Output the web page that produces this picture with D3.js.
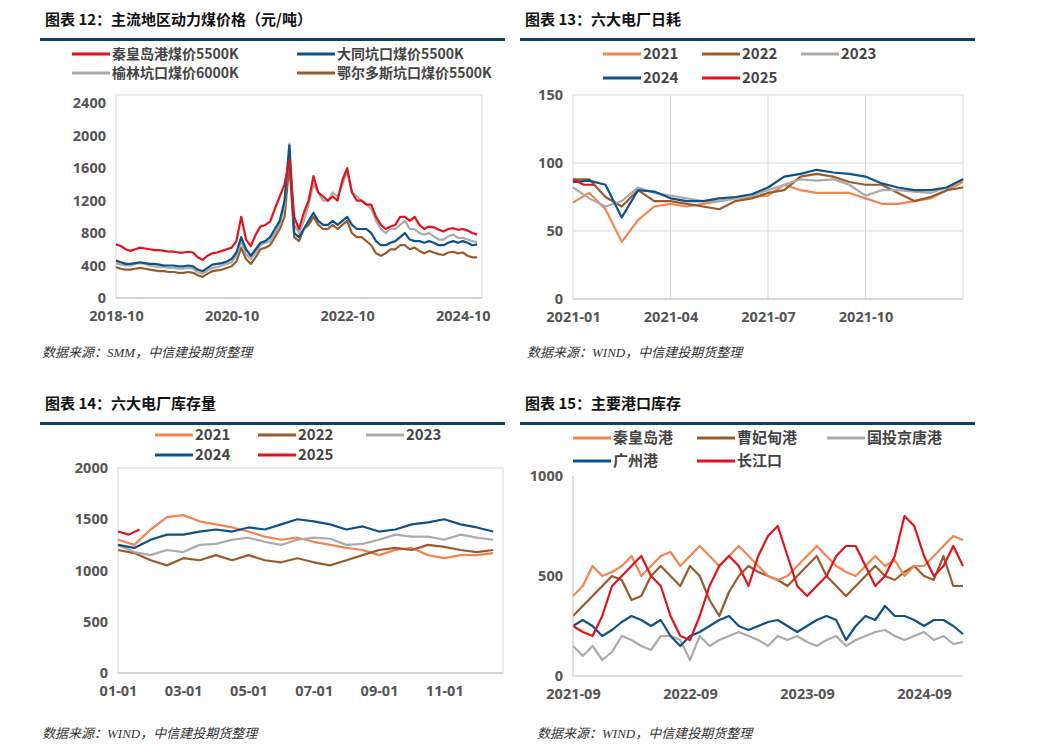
<!DOCTYPE html>
<html><head><meta charset="utf-8">
<script src="https://cdn.jsdelivr.net/npm/d3@7"></script>
<style>body{margin:0;background:#fff}svg{font-family:"Noto Sans CJK SC","Noto Sans",sans-serif}</style>
</head><body><svg id="c" width="1041" height="753"></svg>
<script>
// ---- Chart 12: prices, monthly from 2018-10
const priceTicks = ["2018-10","2020-10","2022-10","2024-10"];
const qhd = [660,640,600,580,600,620,610,600,590,590,580,570,570,560,560,570,560,500,470,520,550,560,580,600,620,700,1000,720,640,780,880,900,940,1100,1250,1400,1700,1000,850,1050,1200,1500,1300,1250,1200,1250,1200,1450,1600,1300,1200,1200,1150,1150,1000,900,850,880,900,1000,1000,950,1000,900,850,880,870,840,820,850,860,840,850,830,800,780];
const datong = [460,440,420,420,430,440,430,420,420,410,400,400,400,390,390,400,390,350,330,370,410,420,430,450,480,560,750,600,520,600,680,700,750,850,950,1200,1880,800,750,850,950,1050,950,900,900,950,900,950,1000,900,850,850,850,800,700,650,650,680,700,750,800,720,700,700,680,700,680,650,650,680,700,680,700,680,650,660];
const yulin = [430,410,400,400,420,430,420,400,390,380,380,370,370,360,360,370,360,320,300,340,370,380,400,420,440,520,700,540,480,560,650,680,700,800,900,1150,1900,900,800,950,1150,1400,1300,1200,1200,1300,1250,1400,1550,1300,1250,1200,1150,1100,950,850,800,850,850,900,950,850,850,800,780,800,760,720,720,760,780,740,740,720,700,690];
const ordos = [380,360,350,350,360,370,360,350,340,330,330,320,320,310,310,320,310,280,260,300,330,340,350,370,390,450,620,480,420,500,600,620,650,750,850,1000,1650,750,700,850,900,1000,900,850,850,900,850,900,950,800,750,750,700,650,550,520,550,600,600,650,650,600,620,580,550,580,560,540,530,560,570,550,560,520,500,500];
// ---- Chart 13: daily consumption, half-month steps
const burnTicks = ["2021-01","2021-04","2021-07","2021-10"];
const burn2021 = [71,78,66,42,58,68,70,68,70,72,74,75,76,84,80,78,78,78,74,70,70,72,74,80,86];
const burn2022 = [88,88,75,68,80,72,72,70,68,66,72,74,78,80,90,92,90,86,84,84,78,72,75,80,82];
const burn2023 = [82,74,68,72,82,78,76,74,72,72,74,76,80,84,88,87,88,84,76,80,80,79,78,82,88];
const burn2024 = [86,87,84,60,80,79,74,72,72,74,75,77,82,90,92,95,93,92,90,85,82,80,80,82,88];
const burn2025 = [88,84,84];
// ---- Chart 14: inventory, half-month steps
const stockTicks = ["01-01","03-01","05-01","07-01","09-01","11-01"];
const stock2021 = [1300,1250,1400,1520,1540,1480,1450,1420,1380,1330,1300,1320,1280,1250,1220,1200,1150,1200,1220,1150,1120,1150,1150,1170];
const stock2022 = [1200,1170,1100,1050,1120,1100,1150,1100,1150,1100,1080,1120,1080,1050,1100,1150,1200,1220,1200,1250,1230,1200,1180,1200];
const stock2023 = [1250,1180,1150,1200,1180,1250,1260,1300,1320,1280,1250,1300,1320,1310,1250,1260,1300,1350,1330,1330,1300,1350,1320,1300];
const stock2024 = [1250,1220,1300,1350,1350,1380,1400,1380,1420,1400,1450,1500,1480,1450,1400,1430,1380,1400,1450,1470,1500,1450,1420,1380];
const stock2025 = [1380,1350,1400];
// ---- Chart 15: port stocks, monthly from 2021-09
const portTicks = ["2021-09","2022-09","2023-09","2024-09"];
const portQhd = [400,450,550,500,520,550,600,500,550,600,620,550,600,650,600,550,600,650,600,550,500,480,500,550,600,650,600,550,520,500,550,600,550,580,500,550,550,600,650,700,680];
const portCfd = [300,350,400,450,500,480,380,400,500,550,500,450,550,500,380,300,420,500,550,520,500,480,450,500,550,600,500,450,400,450,500,550,500,480,520,550,500,480,600,450,450];
const portJt = [150,100,150,80,120,200,180,150,130,200,200,180,80,200,150,180,200,220,200,180,150,200,180,200,170,150,180,200,150,180,200,220,230,200,180,200,220,180,200,160,170];
const portGz = [250,280,250,200,230,270,300,280,250,280,200,150,200,220,250,280,300,250,230,250,270,280,250,220,250,280,300,280,180,250,300,280,350,300,300,280,250,280,280,250,210];
const portCj = [250,220,200,300,450,500,550,600,500,450,300,200,180,300,450,550,600,550,450,600,700,750,600,450,400,450,500,600,650,650,550,450,500,600,800,750,600,500,550,650,550];

const RED="#E1141E",BLUE="#0D5289",GRAY="#ABABAB",BROWN="#9A5B2C",ORANGE="#F5844F";
const svg=d3.select("#c");
function header(x,y,w,title){
  svg.append("text").attr("x",x+5).attr("y",y).attr("font-size",15).attr("font-weight","bold").attr("fill","#111").text(title);
  svg.append("rect").attr("x",x).attr("y",y+13).attr("width",w).attr("height",3).attr("fill","#12406E");
}
function source(x,y,t){svg.append("text").attr("x",x).attr("y",y).attr("font-size",13).attr("font-style","italic").attr("fill","#333").attr("font-family",'"Liberation Serif","Noto Sans CJK SC",serif').text(t);}
function legend(items,fs){
  items.forEach(d=>{
    const g=svg.append("g").attr("transform",`translate(${d.x},${d.y})`);
    g.append("line").attr("x1",0).attr("x2",38).attr("stroke",d.c).attr("stroke-width",3);
    g.append("text").attr("x",40).attr("y",fs/3).attr("font-size",fs).attr("font-weight","bold").attr("fill","#444").text(d.t);
  });
}
function panel(o){
  const x=d3.scaleLinear().domain(o.xd).range([o.x0,o.x1]);
  const y=d3.scaleLinear().domain(o.yd).range([o.y1,o.y0]);
  const g=svg.append("g");
  if(o.box) g.append("rect").attr("x",o.x0).attr("y",o.y0).attr("width",o.x1-o.x0).attr("height",o.y1-o.y0).attr("fill","none").attr("stroke","#d9d9d9");
  if(o.grid){
    o.yt.forEach(v=>g.append("line").attr("x1",o.x0).attr("x2",o.x1).attr("y1",y(v)).attr("y2",y(v)).attr("stroke","#d9d9d9"));
    o.xt.concat(o.extraV||[]).forEach(v=>g.append("line").attr("x1",x(v)).attr("x2",x(v)).attr("y1",o.y0).attr("y2",o.y1).attr("stroke","#d9d9d9"));
  }
  const ya=g.append("g").attr("transform",`translate(${o.x0},0)`).call(d3.axisLeft(y).tickValues(o.yt).tickFormat(d3.format("d")).tickSize(0).tickPadding(10));
  const xa=g.append("g").attr("transform",`translate(0,${o.y1})`).call(d3.axisBottom(x).tickValues(o.xt).tickFormat((d,i)=>o.xl[i]).tickSize(0).tickPadding(13));
  [ya,xa].forEach(a=>{a.select(".domain").remove();a.selectAll("text").attr("font-size",14.5).attr("font-weight","bold").attr("fill","#555").attr("font-family",'"Noto Sans","Noto Sans CJK SC",sans-serif');});
  g.append("line").attr("x1",o.x0).attr("x2",o.x1).attr("y1",o.y1).attr("y2",o.y1).attr("stroke","#bfbfbf");
  o.series.forEach(s=>{
    const line=d3.line().x((d,i)=>x(i*s.step)).y(d=>y(d));
    g.append("path").datum(s.v).attr("d",line).attr("fill","none").attr("stroke",s.c).attr("stroke-width",2.2).attr("stroke-linejoin","round");
  });
}
// Chart 12
header(40,25,465,"图表 12：主流地区动力煤价格（元/吨）");
legend([{x:72,y:54,c:RED,t:"秦皇岛港煤价5500K"},{x:297,y:54,c:BLUE,t:"大同坑口煤价5500K"},{x:72,y:73,c:GRAY,t:"榆林坑口煤价6000K"},{x:297,y:73,c:BROWN,t:"鄂尔多斯坑口煤价5500K"}],14);
panel({x0:116,x1:482,y0:95,y1:298,xd:[0,76],yd:[0,2500],box:true,yt:[0,400,800,1200,1600,2000,2400],xt:[0,24,48,72],xl:priceTicks,
 series:[{v:ordos,c:BROWN,step:1},{v:yulin,c:GRAY,step:1},{v:datong,c:BLUE,step:1},{v:qhd,c:RED,step:1}]});
source(42,357,"数据来源：SMM，中信建投期货整理");
// Chart 13
header(520,25,455,"图表 13：六大电厂日耗");
legend([{x:603,y:54,c:ORANGE,t:"2021"},{x:702,y:54,c:BROWN,t:"2022"},{x:801,y:54,c:GRAY,t:"2023"},{x:603,y:78,c:BLUE,t:"2024"},{x:702,y:78,c:RED,t:"2025"}],15);
panel({x0:573,x1:963,y0:95,y1:299,xd:[0,12],yd:[0,150],grid:true,yt:[0,50,100,150],xt:[0,3,6,9],extraV:[12],xl:burnTicks,
 series:[{v:burn2021,c:ORANGE,step:.5},{v:burn2022,c:BROWN,step:.5},{v:burn2023,c:GRAY,step:.5},{v:burn2024,c:BLUE,step:.5},{v:burn2025,c:RED,step:.33}]});
source(527,357,"数据来源：WIND，中信建投期货整理");
// Chart 14
header(40,409,465,"图表 14：六大电厂库存量");
legend([{x:155,y:435,c:ORANGE,t:"2021"},{x:258,y:435,c:BROWN,t:"2022"},{x:366,y:435,c:GRAY,t:"2023"},{x:155,y:455,c:BLUE,t:"2024"},{x:258,y:455,c:RED,t:"2025"}],15);
panel({x0:118,x1:503,y0:468,y1:673,xd:[0,11.8],yd:[0,2000],box:true,yt:[0,500,1000,1500,2000],xt:[0,2,4,6,8,10],xl:stockTicks,
 series:[{v:stock2021,c:ORANGE,step:.5},{v:stock2022,c:BROWN,step:.5},{v:stock2023,c:GRAY,step:.5},{v:stock2024,c:BLUE,step:.5},{v:stock2025,c:RED,step:.33}]});
source(42,738,"数据来源：WIND，中信建投期货整理");
// Chart 15
header(520,409,455,"图表 15：主要港口库存");
legend([{x:573,y:438,c:ORANGE,t:"秦皇岛港"},{x:697,y:438,c:BROWN,t:"曹妃甸港"},{x:827,y:438,c:GRAY,t:"国投京唐港"},{x:573,y:461,c:BLUE,t:"广州港"},{x:697,y:461,c:RED,t:"长江口"}],15);
panel({x0:573,x1:963,y0:476,y1:676,xd:[0,40],yd:[0,1000],box:false,yt:[0,500,1000],xt:[0,12,24,36],xl:portTicks,
 series:[{v:portJt,c:GRAY,step:1},{v:portGz,c:BLUE,step:1},{v:portCfd,c:BROWN,step:1},{v:portQhd,c:ORANGE,step:1},{v:portCj,c:RED,step:1}]});
svg.append("line").attr("x1",573).attr("x2",573).attr("y1",476).attr("y2",676).attr("stroke","#bfbfbf");
source(537,738,"数据来源：WIND，中信建投期货整理");
</script></body></html>
